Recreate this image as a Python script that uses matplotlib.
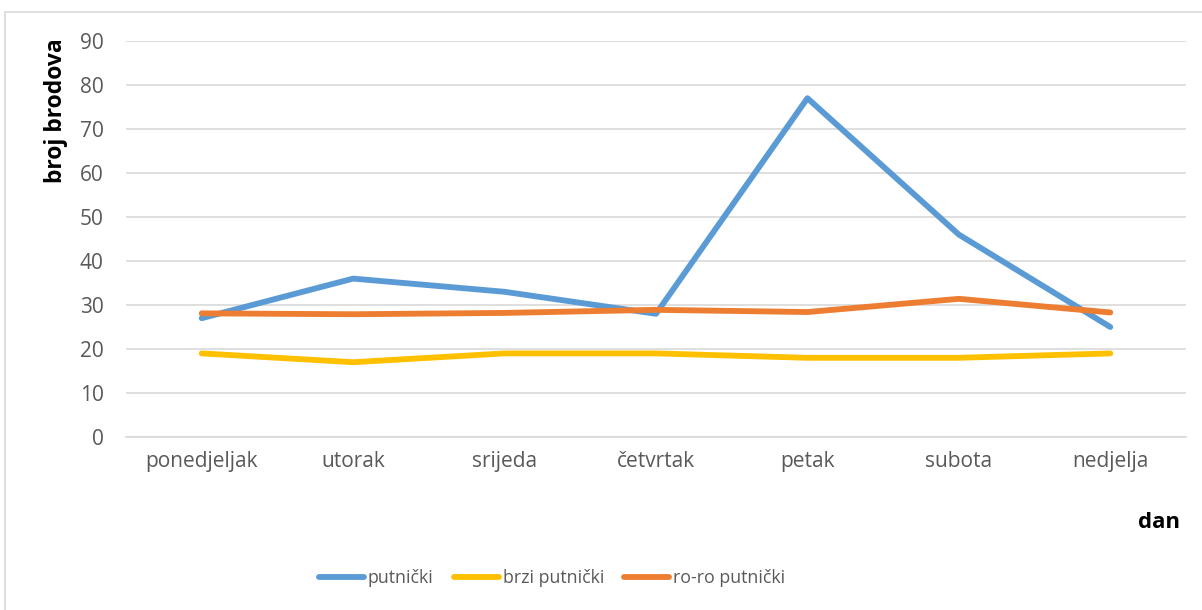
import matplotlib
matplotlib.use("Agg")
import matplotlib.pyplot as plt
from matplotlib.patches import Rectangle

# Data
days = ["ponedjeljak", "utorak", "srijeda", "četvrtak", "petak", "subota", "nedjelja"]
putnicki = [27, 36, 33, 28, 77, 46, 25]
brzi_putnicki = [19, 17, 19, 19, 18, 18, 19]
roro_putnicki = [28.1, 27.9, 28.2, 28.9, 28.4, 31.4, 28.3]
y_ticks = [0, 10, 20, 30, 40, 50, 60, 70, 80, 90]

plt.rcParams['font.family'] = ['Open Sans', 'DejaVu Sans']

W, H = 1202, 610
FS = 15
LFS = 12.8
LW = 4.2
fig = plt.figure(figsize=(W / 100, H / 100), dpi=100)

# light chart frame
fig.patches.append(Rectangle((5 / W, -0.1), 1.1, (H - 12) / H + 0.1,
                             transform=fig.transFigure, fill=False,
                             edgecolor='#d9d9d9', linewidth=1.2))

ax = fig.add_axes([126 / W, 1 - 437 / H, (1186 - 126) / W, (437 - 41) / H])
x = list(range(len(days)))
ax.plot(x, putnicki, color='#5b9bd5', lw=LW, solid_capstyle='round',
        solid_joinstyle='round', label='putnički')
ax.plot(x, brzi_putnicki, color='#ffc000', lw=LW, solid_capstyle='round',
        solid_joinstyle='round', label='brzi putnički')
ax.plot(x, roro_putnicki, color='#ed7d31', lw=LW, solid_capstyle='round',
        solid_joinstyle='round', label='ro-ro putnički')

ax.set_xlim(-0.5, len(days) - 0.5)
ax.set_ylim(0, 90)
ax.set_yticks(y_ticks)
ax.set_xticks(x)
ax.set_xticklabels(days)
ax.grid(axis='y', color='#d9d9d9', lw=1.2)
ax.set_axisbelow(True)
for s in ['top', 'right', 'left']:
    ax.spines[s].set_visible(False)
ax.spines['bottom'].set_color('#d9d9d9')
ax.spines['bottom'].set_linewidth(1.2)
ax.tick_params(axis='both', length=0, colors='#595959', labelsize=FS)
ax.tick_params(axis='y', pad=16)
ax.tick_params(axis='x', pad=10)

fig.text(56 / W, 1 - 111 / H, 'broj brodova', rotation=90, ha='center',
         va='center', fontsize=16.5, fontweight='bold', color='black')
fig.text(1159 / W, 1 - 523 / H, 'dan', ha='center', va='center',
         fontsize=16, fontweight='bold', color='black')

lh = LFS * 100 / 72
fig.legend(loc='center', bbox_to_anchor=(552 / W, 1 - 578 / H), ncol=3,
           frameon=False, fontsize=LFS, labelcolor='#595959',
           handlelength=45 / lh, handletextpad=4 / lh, columnspacing=20 / lh)

fig.savefig('out.png', dpi=100)
